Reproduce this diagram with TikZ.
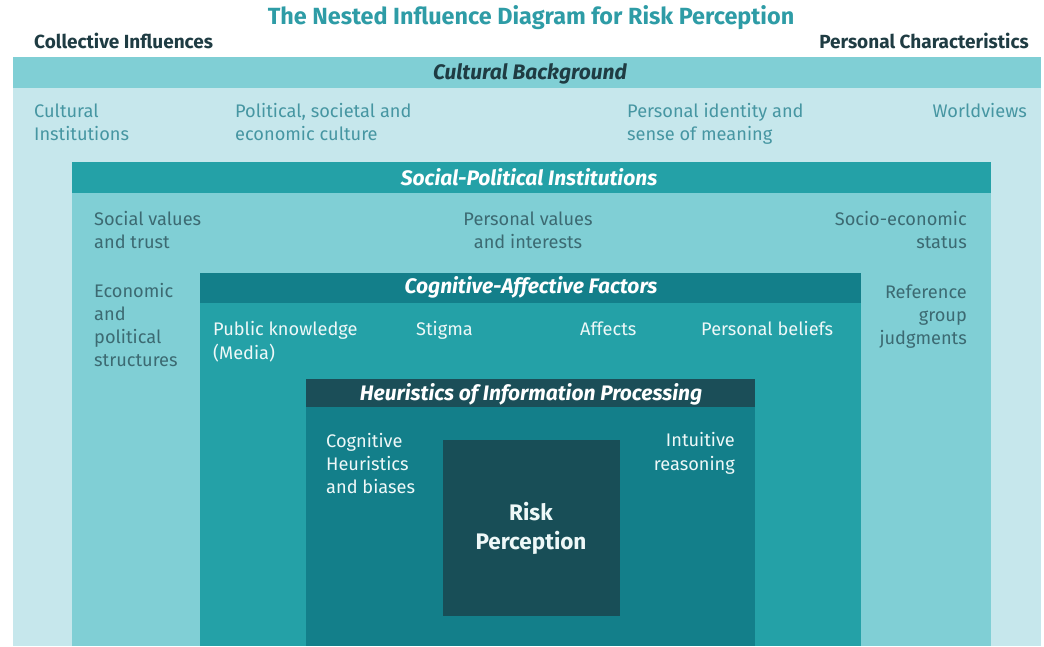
\documentclass[tikz,border=0pt]{standalone}
\usepackage{fontspec}
\setmainfont{Fira Sans}
\usetikzlibrary{calc}
\definecolor{title}{HTML}{2E9CA6}
\definecolor{ink}{HTML}{1F3C43}
\definecolor{paleA}{HTML}{C6E7EC}
\definecolor{paleB}{HTML}{80CFD5}
\definecolor{midC}{HTML}{24A1A7}
\definecolor{deepD}{HTML}{137F8A}
\definecolor{darkE}{HTML}{1B4E58}
\definecolor{core}{HTML}{184E57}
\definecolor{txtA}{HTML}{4696A2}
\definecolor{txtB}{HTML}{3C6A72}
\definecolor{txtC}{HTML}{EEF8F8}
\newcommand{\bodytxt}{\fontsize{18.2}{23}\selectfont}
\newcommand{\headtxt}{\fontsize{19}{23}\selectfont\bfseries}
\newcommand{\bartxt}{\fontsize{21}{24}\selectfont\bfseries\itshape}
\newcommand{\titletxt}{\fontsize{23.4}{26}\selectfont\bfseries}
\newcommand{\coretxt}{\fontsize{22.5}{28.5}\selectfont\bfseries}

\begin{document}
\begin{tikzpicture}[x=1pt,y=1pt,font=\bodytxt]
\useasboundingbox (0,0) rectangle (1044,646);
% nested boxes, outermost first
\fill[paleA] (13,0) rectangle (1041,589);
\fill[paleB] (13,558) rectangle (1041,589);
\fill[paleB] (72,0) rectangle (991,484);
\fill[midC] (72,453) rectangle (991,484);
\fill[midC] (200,0) rectangle (861,373);
\fill[deepD] (200,343) rectangle (861,373);
\fill[deepD] (306,0) rectangle (755,267);
\fill[darkE] (306,239) rectangle (755,267);
\fill[core] (443,30) rectangle (620,206);
% headings above the boxes
\node (ttl) [anchor=base,inner sep=0,text=title,font=\titletxt] at (531,621) {The Nested Influence Diagram for Risk Perception};
\node (coll) [anchor=base west,inner sep=0,text=ink,font=\headtxt] at (34,597) {Collective Influences};
\node (pers) [anchor=base east,inner sep=0,text=ink,font=\headtxt] at (1029,597) {Personal Characteristics};
% bar titles
\node (cult) [anchor=base,inner sep=0,text=ink,font=\bartxt] at (530,566) {Cultural Background};
\node (socpol) [anchor=base,inner sep=0,text=white,font=\bartxt] at (529,460) {Social-Political Institutions};
\node (cogaff) [anchor=base,inner sep=0,text=white,font=\bartxt] at (531,352) {Cognitive-Affective Factors};
\node (heur) [anchor=base,inner sep=0,text=white,font=\bartxt] at (531,246) {Heuristics of Information Processing};
% cultural background (base = last line)
\node (inst) [anchor=base west,inner sep=0,align=left,text=txtA] at (34,505) {Cultural\\Institutions};
\node (polcul) [anchor=base west,inner sep=0,align=left,text=txtA] at (235,505) {Political, societal and\\economic culture};
\node (ident) [anchor=base west,inner sep=0,align=left,text=txtA] at (627,505) {Personal identity and\\sense of meaning};
\node (world) [anchor=base east,inner sep=0,text=txtA] at (1027,528) {Worldviews};
% social-political institutions
\node (trust) [anchor=base west,inner sep=0,align=left,text=txtB] at (94,397) {Social values\\and trust};
\node (pval) [anchor=base,inner sep=0,align=center,text=txtB] at (528,397) {Personal values\\and interests};
\node (status) [anchor=base east,inner sep=0,align=right,text=txtB] at (967,397) {Socio-economic\\status};
\node (econ) [anchor=base west,inner sep=0,align=left,text=txtB] at (94,279) {Economic\\and\\political\\structures};
\node (refgrp) [anchor=base east,inner sep=0,align=right,text=txtB] at (967,301) {Reference\\group\\judgments};
% cognitive-affective factors
\node (media) [anchor=base west,inner sep=0,align=left,text=txtC] at (213,287) {Public knowledge\\(Media)};
\node (stigma) [anchor=base west,inner sep=0,text=txtC] at (416,310) {Stigma};
\node (affect) [anchor=base west,inner sep=0,text=txtC] at (580,310) {Affects};
\node (belief) [anchor=base west,inner sep=0,text=txtC] at (701,310) {Personal beliefs};
% heuristics
\node (bias) [anchor=base west,inner sep=0,align=left,text=txtC] at (326,153) {Cognitive\\Heuristics\\and biases};
\node (intuit) [anchor=base east,inner sep=0,align=right,text=txtC] at (735,176) {Intuitive\\reasoning};
\node (risk) [anchor=base,inner sep=0,align=center,text=txtC,font=\coretxt] at (531,97) {Risk\\Perception};
\end{tikzpicture}
\end{document}
